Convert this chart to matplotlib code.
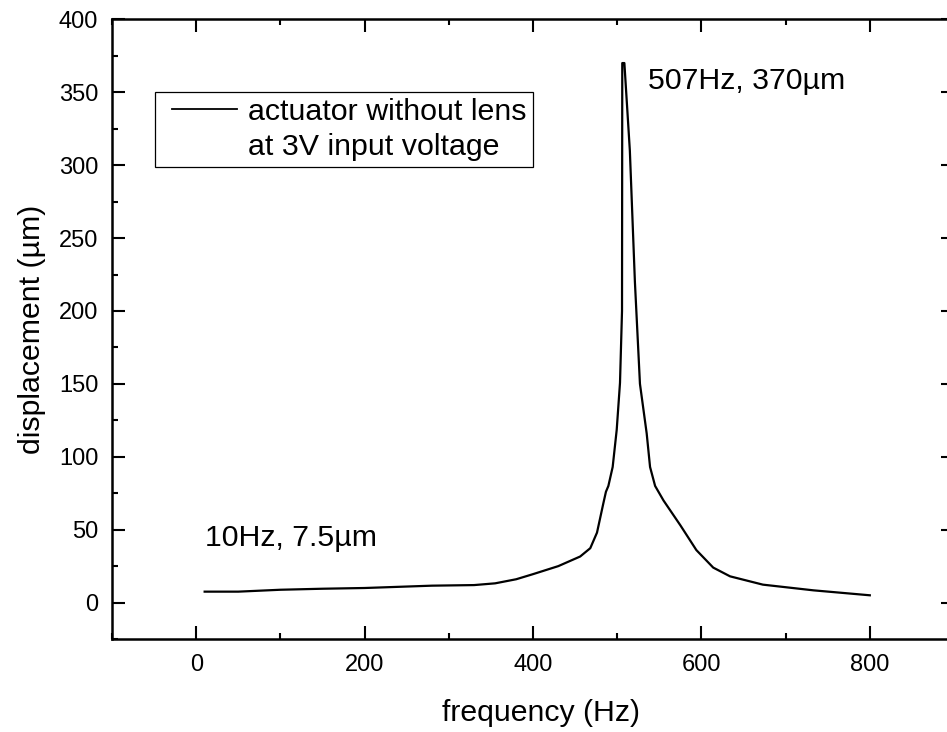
import matplotlib
matplotlib.use('Agg')
import matplotlib.pyplot as plt
from matplotlib.lines import Line2D
from matplotlib.legend_handler import HandlerLine2D
from matplotlib.ticker import MultipleLocator

plt.rcParams['font.family'] = ['Liberation Sans', 'DejaVu Sans']

# frequency response
freq = [10, 50, 100, 150, 200, 250, 280, 330, 355, 380, 400, 430, 456, 468,
        476, 483.5, 486.6, 489.5, 494.6, 499.4, 503.3, 505.7, 506, 508.5,
        515, 521, 527, 535, 539, 545, 555, 575, 594, 614, 634, 673, 733, 800]
disp = [7.5, 7.5, 8.8, 9.5, 10, 11, 11.6, 12, 13.2, 16, 19.5, 25, 31.6, 37.3,
        48, 68, 76, 80, 93, 118.5, 150.7, 200, 370, 370,
        310, 220, 150, 116, 93, 80, 70, 53, 36, 24, 18, 12.3, 8.4, 5]

peak_label = "507Hz, 370\u00b5m"
low_label = "10Hz, 7.5\u00b5m"
legend_lines = ["actuator without lens", "at 3V input voltage"]

fig = plt.figure(figsize=(9.47, 7.32), dpi=100)
ax = fig.add_axes([0.1183, 0.127, 0.8891, 0.8466])

ax.plot(freq, disp, color='black', linewidth=1.6)

ax.set_xlim(-100, 900)
ax.set_ylim(-25, 400)
ax.xaxis.set_major_locator(MultipleLocator(200))
ax.xaxis.set_minor_locator(MultipleLocator(100))
ax.yaxis.set_major_locator(MultipleLocator(50))
ax.yaxis.set_minor_locator(MultipleLocator(25))

for s in ax.spines.values():
    s.set_linewidth(1.8)
ax.tick_params(which='both', direction='in', top=True, right=True, width=1.5)
ax.tick_params(which='major', length=9.5, labelsize=17)
ax.tick_params(which='minor', length=4.5)
ax.tick_params(axis='x', which='major', pad=10.5)
ax.tick_params(axis='y', which='major', pad=10)

ax.set_xlabel("frequency (Hz)", fontsize=21.8, labelpad=17)
ax.xaxis.label.set_x(0.5095)
ax.set_ylabel("displacement (\u00b5m)", fontsize=21.8, labelpad=9)

ax.text(536.5, 352.5, peak_label, fontsize=21.8, va='baseline')
ax.text(10.7, 38.6, low_label, fontsize=21.8, va='baseline')

line_h = Line2D([], [], color='black', linewidth=1.3)
blank_h = Line2D([], [], color='none')
leg = ax.legend([line_h, blank_h], legend_lines, loc='upper left',
                bbox_to_anchor=(0.051, 0.883), borderaxespad=0,
                fontsize=21.9, handlelength=2.5, handletextpad=0.36,
                borderpad=0.2, labelspacing=0.22, fancybox=False,
                framealpha=1,
                handler_map={line_h: HandlerLine2D(xpad=0.36)})
leg.get_frame().set_edgecolor('black')
leg.get_frame().set_linewidth(0.9)

fig.savefig("out.png", dpi=100)
